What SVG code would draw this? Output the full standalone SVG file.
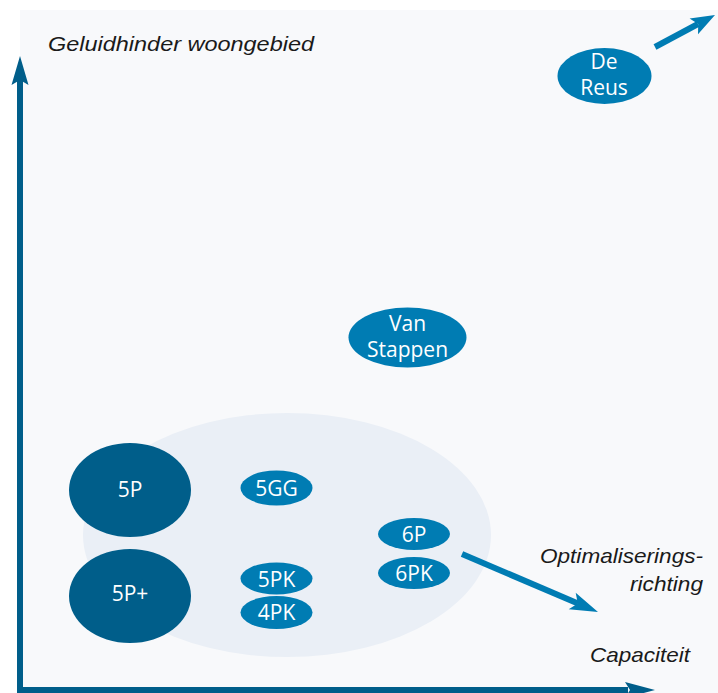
<svg xmlns="http://www.w3.org/2000/svg" width="718" height="693" viewBox="0 0 718 693">
  <style>
    .dark { fill: #005e8a; }
    .mid { fill: #007cb3; }
    .lbl { font-family: "Open Sans", "Noto Sans", sans-serif; font-size: 21px; fill: #ffffff; text-anchor: middle; }
    .ax { font-family: "Liberation Sans", Arial, sans-serif; font-style: italic; font-size: 21px; fill: #1a1a1a; }
  </style>
  <rect x="0" y="0" width="718" height="693" fill="#ffffff"/>
  <rect x="20" y="10" width="698" height="683" fill="#f8f9fb"/>
  <ellipse id="zone" cx="287" cy="535" rx="204" ry="122" fill="#eaeff6"/>

  <g id="connectors">
    <g id="y-axis" class="dark">
      <rect x="17" y="80" width="6" height="613"/>
      <polygon points="20,56 28.5,85 20,80 11.5,85"/>
    </g>
    <g id="x-axis" class="dark">
      <rect x="17" y="687" width="611" height="6"/>
      <polygon points="655,690 625,698 630,690 625,682"/>
    </g>
    <g id="opt-arrow" class="mid">
      <line x1="462" y1="554" x2="578" y2="603.5" stroke="#007cb3" stroke-width="6"/>
      <polygon points="598,612 568.7,609.3 577.8,603.4 575.7,592.7"/>
    </g>
    <g id="reus-arrow" class="mid">
      <line x1="655" y1="47" x2="698" y2="24" stroke="#007cb3" stroke-width="6"/>
      <polygon points="715,15 698,34.2 698.2,23.9 689.6,18.4"/>
    </g>
  </g>

  <text class="ax" x="48" y="51" textLength="266" lengthAdjust="spacingAndGlyphs">Geluidhinder  woongebied</text>
  <text class="ax" x="703" y="563" text-anchor="end" textLength="163" lengthAdjust="spacingAndGlyphs">Optimaliserings-</text>
  <text class="ax" x="703" y="591" text-anchor="end" textLength="73" lengthAdjust="spacingAndGlyphs">richting</text>
  <text class="ax" x="590" y="662" font-size="20" textLength="100" lengthAdjust="spacingAndGlyphs">Capaciteit</text>

  <g id="de-reus">
    <ellipse class="mid" cx="604.5" cy="76" rx="47" ry="28"/>
    <text class="lbl" font-size="20"><tspan x="604" y="68.5">De</tspan><tspan x="604" y="94.5">Reus</tspan></text>
  </g>
  <g id="van-stappen">
    <ellipse class="mid" cx="407.5" cy="337.5" rx="59" ry="30"/>
    <text class="lbl"><tspan x="407.5" y="331">Van</tspan><tspan x="407.5" y="357">Stappen</tspan></text>
  </g>
  <g id="n5P">
    <ellipse class="dark" cx="130" cy="490" rx="61" ry="47"/>
    <text class="lbl" x="130" y="496.5">5P</text>
  </g>
  <g id="n5Pplus">
    <ellipse class="dark" cx="130" cy="596" rx="61" ry="47"/>
    <text class="lbl" x="130" y="600.5">5P+</text>
  </g>
  <g id="n5GG">
    <ellipse class="mid" cx="276.5" cy="488" rx="36" ry="17.5"/>
    <text class="lbl" x="276.5" y="496">5GG</text>
  </g>
  <g id="n5PK">
    <ellipse class="mid" cx="276.5" cy="578.5" rx="36" ry="16"/>
    <text class="lbl" x="276.5" y="586.5">5PK</text>
  </g>
  <g id="n4PK">
    <ellipse class="mid" cx="276.5" cy="612.5" rx="36" ry="16.5"/>
    <text class="lbl" x="276.5" y="619.5">4PK</text>
  </g>
  <g id="n6P">
    <ellipse class="mid" cx="414" cy="534" rx="36" ry="16"/>
    <text class="lbl" x="414" y="542">6P</text>
  </g>
  <g id="n6PK">
    <ellipse class="mid" cx="414" cy="573" rx="36" ry="16"/>
    <text class="lbl" x="414" y="580.5">6PK</text>
  </g>
</svg>
